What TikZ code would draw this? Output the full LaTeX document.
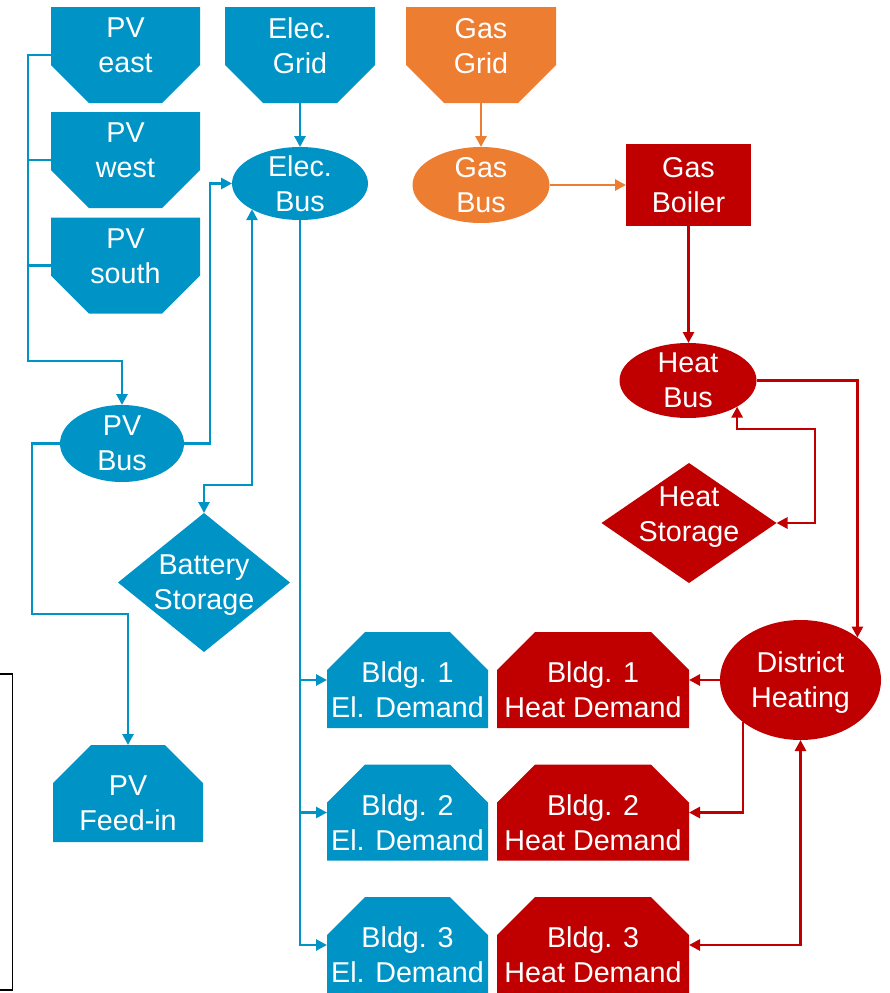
\documentclass[tikz,border=0pt]{standalone}
\usepackage{fontspec}
\setmainfont{Liberation Sans}
\usetikzlibrary{arrows.meta,shapes.geometric}
\definecolor{cblue}{RGB}{0,148,198}
\definecolor{corange}{RGB}{237,125,49}
\definecolor{cred}{RGB}{192,0,0}
\newcommand\botcham[2]{\fill[#2] (#1.north west) -- (#1.north east) -- ([yshift=38pt]#1.south east) -- ([xshift=-38pt]#1.south east) -- ([xshift=38pt]#1.south west) -- ([yshift=38pt]#1.south west) -- cycle;}
\newcommand\topcham[2]{\fill[#2] (#1.south west) -- (#1.south east) -- ([yshift=-38pt]#1.north east) -- ([xshift=-38pt]#1.north east) -- ([xshift=38pt]#1.north west) -- ([yshift=-38pt]#1.north west) -- cycle;}
\begin{document}
\begin{tikzpicture}[x=1pt,y=-1pt,
  box/.style={rectangle, inner sep=0pt, outer sep=0pt, draw=none},
  bus/.style={ellipse, inner sep=0pt, outer sep=0pt, draw=none},
  dia/.style={diamond, inner sep=0pt, outer sep=0pt, draw=none},
  txt/.style={text=white, align=center, inner sep=0pt, font=\fontsize{28.7pt}{35pt}\selectfont, text depth=0pt},
  wire/.style={line width=2.7pt},
  conn/.style={line width=2.7pt, -{Triangle[length=11pt,width=11pt]}},
  conn2/.style={line width=2.7pt, {Triangle[length=11pt,width=11pt]}-{Triangle[length=11pt,width=11pt]}},
]
\useasboundingbox (0,0) rectangle (889,993);

% ---- shapes ----
\node[box, minimum width=149pt, minimum height=96pt] (pve) at (125.5,55) {};
\node[box, minimum width=149pt, minimum height=96pt] (pvw) at (125.5,160) {};
\node[box, minimum width=149pt, minimum height=96pt] (pvs) at (125.5,265.5) {};
\node[box, minimum width=150pt, minimum height=96pt] (egrid) at (300,55) {};
\node[box, minimum width=150pt, minimum height=96pt] (ggrid) at (481,55) {};
\node[box, minimum width=150pt, minimum height=97pt] (feedin) at (128,793.5) {};
\foreach \i/\y in {1/680,2/812.5,3/945}{
  \node[box, minimum width=161pt, minimum height=96pt] (el\i) at (407.5,\y) {};
  \node[box, minimum width=192pt, minimum height=96pt] (ht\i) at (593,\y) {};
}
\botcham{pve}{cblue}
\botcham{pvw}{cblue}
\botcham{pvs}{cblue}
\botcham{egrid}{cblue}
\botcham{ggrid}{corange}
\topcham{feedin}{cblue}
\foreach \i in {1,2,3}{
  \topcham{el\i}{cblue}
  \topcham{ht\i}{cred}
}
\node[bus, fill=cblue, minimum width=136pt, minimum height=73pt] (ebus) at (300,183.5) {};
\node[bus, fill=corange, minimum width=137pt, minimum height=76pt] (gbus) at (481,185) {};
\node[box, fill=cred, minimum width=125pt, minimum height=82pt] (boiler) at (688.5,185) {};
\node[bus, fill=cred, minimum width=137pt, minimum height=75pt] (hbus) at (688,380.5) {};
\node[dia, fill=cred, minimum width=175pt, minimum height=120pt] (hs) at (689,523) {};
\node[bus, fill=cred, minimum width=161pt, minimum height=120pt] (dh) at (800.5,680) {};
\node[bus, fill=cblue, minimum width=124pt, minimum height=77pt] (pvbus) at (122,443.5) {};
\node[dia, fill=cblue, minimum width=172pt, minimum height=139pt] (batt) at (204,582.5) {};

% ---- texts ----
\node[txt] (pvet) at ([yshift=9.5pt]pve.center) {PV\\east};
\node[txt] (pvwt) at ([yshift=9.5pt]pvw.center) {PV\\west};
\node[txt] (pvst) at ([yshift=9.5pt]pvs.center) {PV\\south};
\node[txt] (egridt) at ([yshift=9.5pt]egrid.center) {Elec.\\Grid};
\node[txt] (ggridt) at ([yshift=9.5pt]ggrid.center) {Gas\\Grid};
\node[txt] (feedint) at ([yshift=-10pt]feedin.center) {PV\\Feed-in};
\foreach \i in {1,2,3}{
  \node[txt] (el\i t) at ([yshift=-10pt]el\i.center) {Bldg. \i\\El. Demand};
  \node[txt] (ht\i t) at ([yshift=-10pt]ht\i.center) {Bldg. \i\\Heat Demand};
}
\node[txt] (ebust) at (ebus.center) {Elec.\\Bus};
\node[txt] (gbust) at (gbus.center) {Gas\\Bus};
\node[txt] (boilert) at (boiler.center) {Gas\\Boiler};
\node[txt] (hbust) at (hbus.center) {Heat\\Bus};
\node[txt] (hst) at ([yshift=9pt]hs.center) {Heat\\Storage};
\node[txt] (dht) at (dh.center) {District\\Heating};
\node[txt] (pvbust) at (pvbus.center) {PV\\Bus};
\node[txt] (battt) at (batt.center) {Battery\\Storage};

% ---- junction coordinates ----
\coordinate (trunk) at (28,361);
\coordinate (j2) at (210,183.5);
\coordinate (b1) at (252,485);
\coordinate (f1) at (32,614);
\coordinate (h1) at (815,429);

% ---- blue connectors ----
\draw[cblue, conn] (pve.west) -| (trunk) -| (pvbus.north);
\draw[cblue, wire] (pvw.west) -- (pvw.west -| trunk);
\draw[cblue, wire] (pvs.west) -- (pvs.west -| trunk);
\draw[cblue, conn] (pvbus.east) -| (j2) -- (ebus.west);
\draw[cblue, conn] (egrid.south) -- (ebus.north);
\draw[cblue, conn2] (batt.north) |- (b1) -- (b1 |- ebus.208);
\foreach \i in {1,2,3}{
  \draw[cblue, conn] (ebus.south) |- (el\i.west);
}
\draw[cblue, conn] (pvbus.west) -| (f1) -| (feedin.north);

% ---- orange connectors ----
\draw[corange, conn] (ggrid.south) -- (gbus.north);
\draw[corange, conn] (gbus.east) -- (boiler.west);

% ---- red connectors ----
\draw[cred, conn] (boiler.south) -- (boiler.south |- hbus.north);
\draw[cred, conn] (hbus.east) -| (dh.north east);
\draw[cred, conn2] (hs.east) -| (h1) -| (hbus.-28);
\draw[cred, conn] (dh.west) -- (ht1.east);
\draw[cred, conn] (dh.216) |- (ht2.east);
\draw[cred, conn2] (ht3.east) -| (dh.south);

% ---- partial frame at left ----
\draw[line width=1.8pt] (0,674) -| (12.5,990) -- (0,990);
\end{tikzpicture}
\end{document}
